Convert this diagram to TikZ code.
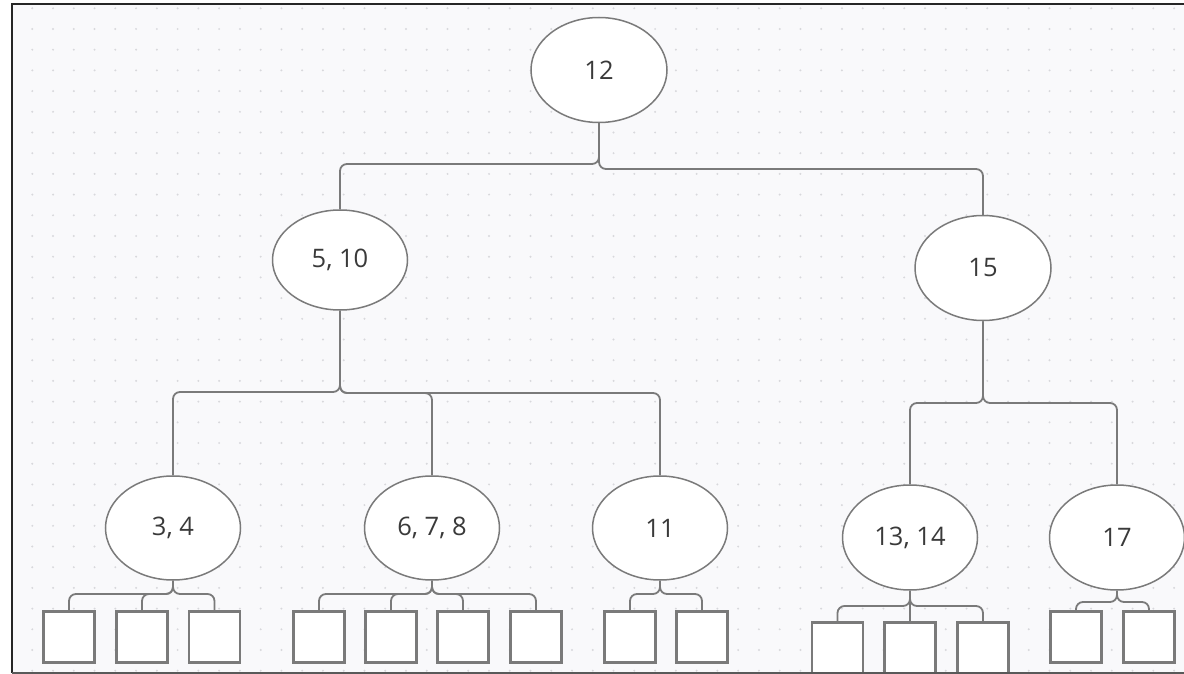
\documentclass[tikz,border=0pt]{standalone}
\usepackage{fontspec}
\setmainfont{Open Sans}
\usetikzlibrary{shapes.geometric}
\definecolor{bgc}{HTML}{F9F9FB}
\definecolor{dotc}{HTML}{D8D8DC}
\definecolor{linec}{HTML}{7A7A7A}
\definecolor{txtc}{HTML}{3A3A3A}
\tikzset{
  oval/.style={ellipse, draw=linec, line width=1.5pt, fill=white, inner sep=0pt,
    minimum width=135pt, minimum height=104pt, text=txtc, font=\fontsize{25.5}{30}\selectfont},
  leaf/.style={rectangle, draw=linec, line width=2.2pt, fill=white, inner sep=0pt,
    minimum width=51pt, minimum height=51pt},
  conn/.style={draw=linec, line width=1.8pt, rounded corners=7pt},
}
\begin{document}
\begin{tikzpicture}[x=1pt,y=-1pt]
\useasboundingbox (0,0) rectangle (1184,674);
\fill[white] (0,0) rectangle (1184,674);
\fill[bgc] (12,4) rectangle (1184,673);
\foreach \i in {0,...,55} {
  \foreach \j in {0,...,32} {
    \fill[dotc] (32.3+20.76*\i, 8.3+20.7*\j) circle (1.1pt);
  }
}
% ellipses
\node[oval, minimum width=136pt, minimum height=105pt] (n12) at (599,70) {12};
\node[oval, minimum height=100pt] (n510) at (340,260) {5, 10};
\node[oval, minimum width=136pt, minimum height=105pt] (n15) at (983,268) {15};
\node[oval] (n34) at (173,528) {3, 4};
\node[oval] (n678) at (432,528) {6, 7, 8};
\node[oval] (n11) at (660,528) {11};
\node[oval, minimum height=105pt] (n1314) at (910,537.5) {13, 14};
\node[oval, minimum height=105pt] (n17) at (1117,537.5) {17};
% leaves
\node[leaf] (a1) at (69,637) {};
\node[leaf] (a2) at (142,637) {};
\node[leaf] (a3) at (214.5,637) {};
\node[leaf] (b1) at (319,637) {};
\node[leaf] (b2) at (391,637) {};
\node[leaf] (b3) at (463,637) {};
\node[leaf] (b4) at (536,637) {};
\node[leaf] (c1) at (630,637) {};
\node[leaf] (c2) at (702,637) {};
\node[leaf] (d1) at (837.5,648) {};
\node[leaf] (d2) at (910,648) {};
\node[leaf] (d3) at (983,648) {};
\node[leaf] (e1) at (1076,637) {};
\node[leaf] (e2) at (1149,637) {};
% connectors
\draw[conn] (n12.south) |- (n510.north |- 0,164) -- (n510.north);
\draw[conn] (n12.south) |- (n15.north |- 0,169) -- (n15.north);
\draw[conn] (n510.south) |- (n34.north |- 0,392) -- (n34.north);
\draw[conn] (n510.south) |- (n678.north |- 0,393) -- (n678.north);
\draw[conn] (n510.south) |- (n11.north |- 0,393) -- (n11.north);
\draw[conn] (n15.south) |- (n1314.north |- 0,403) -- (n1314.north);
\draw[conn] (n15.south) |- (n17.north |- 0,403) -- (n17.north);
\foreach \c in {a1,a2,a3} \draw[conn] (n34.south) |- (\c.north |- 0,594) -- (\c.north);
\foreach \c in {b1,b2,b3,b4} \draw[conn] (n678.south) |- (\c.north |- 0,594) -- (\c.north);
\foreach \c in {c1,c2} \draw[conn] (n11.south) |- (\c.north |- 0,594) -- (\c.north);
\foreach \c in {d1,d3} \draw[conn] (n1314.south) |- (\c.north |- 0,606) -- (\c.north);
\draw[conn] (n1314.south) -- (d2.north);
\foreach \c in {e1,e2} \draw[conn] (n17.south) |- (\c.north |- 0,602) -- (\c.north);
% frame
\fill[white] (0,673.5) rectangle (1184,674);
\draw[line width=2pt, black!85] (1184,4) -- (12,4) -- (12,673);
\draw[line width=1.5pt, black!65] (12,673) -- (1184,673);
\end{tikzpicture}
\end{document}
